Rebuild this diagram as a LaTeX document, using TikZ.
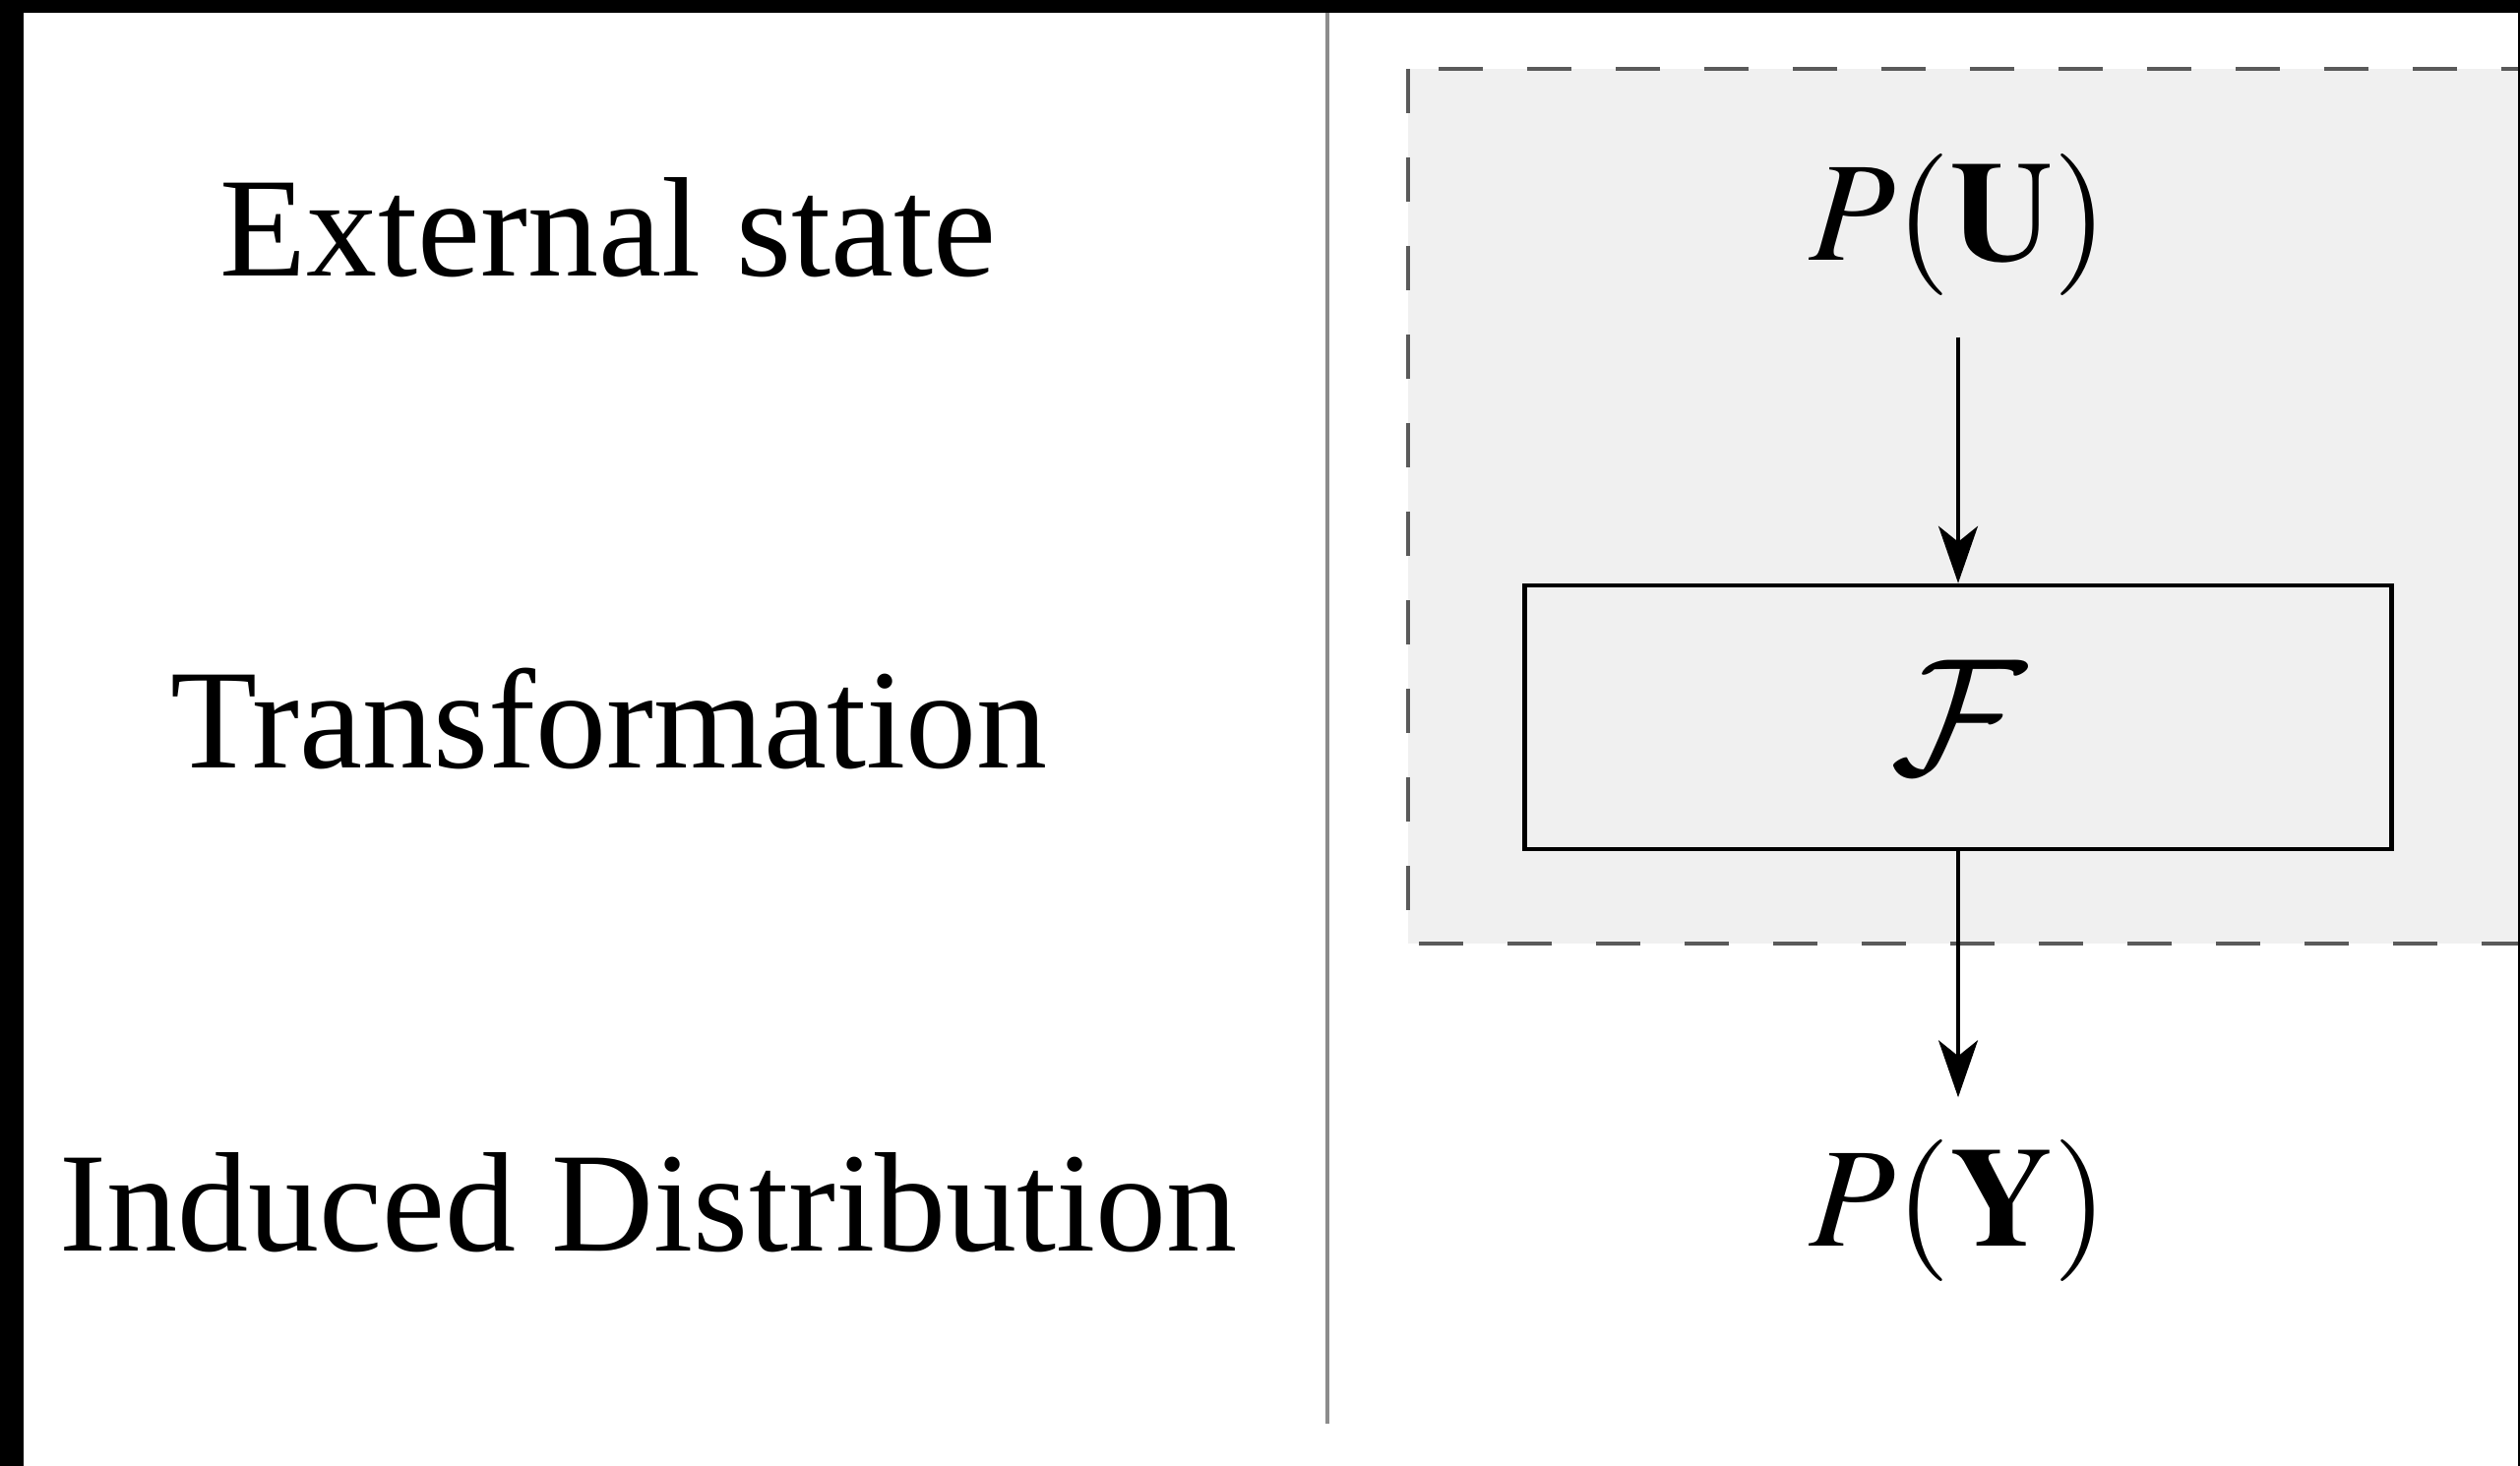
\RequirePackage{fix-cm}
\documentclass[tikz,border=0pt]{standalone}
\usepackage{mathptmx}
\DeclareMathAlphabet{\mathcal}{OMS}{cmsy}{m}{n}
\usepackage{fontspec}
\setmainfont{Liberation Serif}
\usepackage{xcolor}
\usetikzlibrary{arrows.meta, positioning}

\definecolor{boxgrey}{HTML}{F0F0F0}
\definecolor{dashgrey}{HTML}{5A5A5A}
\definecolor{rulegrey}{HTML}{8C8C8C}

\begin{document}
\begin{tikzpicture}[
    node distance=2.5cm,
    rowlabel/.style={font=\fontsize{41}{49}\selectfont, inner sep=0pt, anchor=base},
    dist/.style={font=\fontsize{41}{49}\selectfont, inner sep=0.42cm},
    transform/.style={rectangle, minimum width=8.81cm, minimum height=2.68cm, draw=black, line width=1.3pt, fill=boxgrey, font=\fontsize{48}{58}\selectfont},
    arrow/.style={line width=1pt, -{Stealth[length=0.58cm, width=0.4cm, inset=0.16cm]}}
]
\clip (0,0) rectangle (25.61,14.90);
\fill[white] (0,0) rectangle (25.61,14.90);

% grey group box and separator
\draw[dashgrey, line width=1.1pt, dash pattern=on 0.45cm off 0.45cm, fill=boxgrey] (14.31,14.20) rectangle (26.5,5.31);
\draw[rulegrey, line width=1.4pt] (13.49,14.90) -- (13.49,0.43);

% row labels
\node (ext) [rowlabel] at (6.18,12.09) {External state};
\node (trans) [rowlabel] at (6.19,7.09) {Transformation};
\node (induced) [rowlabel] at (6.59,2.18) {Induced Distribution};

% chain
\node (pu) [dist] at (19.90,12.62) {$P(\mathbf{U})$};
\node (f) [transform, below=of pu] {$\mathcal{F}$};
\node (py) [dist, below=of f] {$P(\mathbf{Y})$};

\draw [arrow] (pu) -- (f);
\draw [arrow] (f) -- (py);

% black edges
\fill[black] (0,14.77) rectangle (25.61,14.90);
\fill[black] (0,0) rectangle (0.24,14.90);
\fill[black] (25.59,0) rectangle (25.61,14.90);
\end{tikzpicture}
\end{document}
